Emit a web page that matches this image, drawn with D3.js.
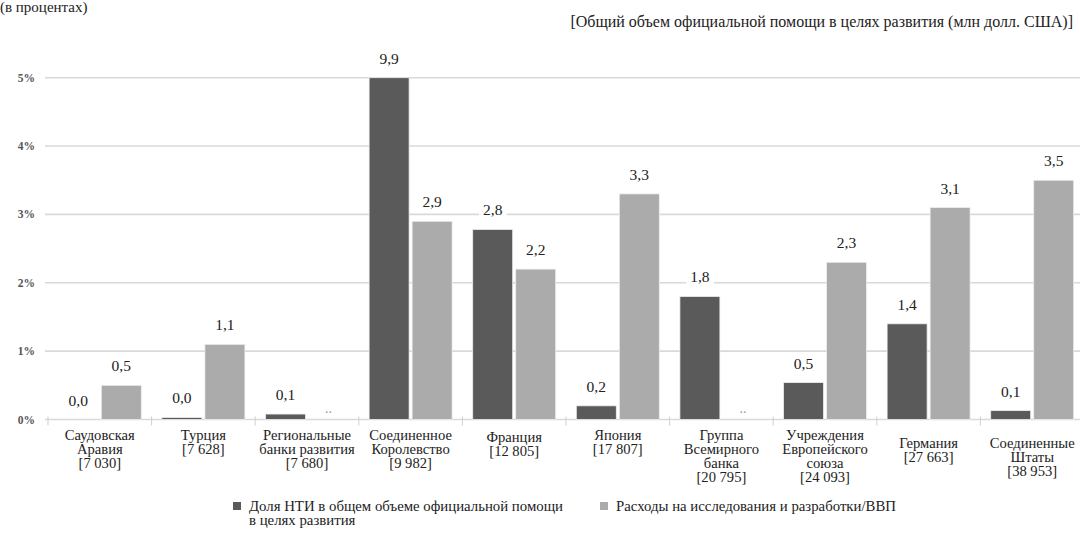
<!DOCTYPE html>
<html><head><meta charset="utf-8">
<script src="https://cdn.jsdelivr.net/npm/d3@7"></script>
<style>
html,body{margin:0;padding:0;background:#fff;}
svg{display:block;}
</style></head>
<body>
<svg id="chart" width="1080" height="534" font-family="'Liberation Serif', 'DejaVu Serif', serif"></svg>
<script>
// ---------- DATA ----------
const categories = ["Саудовская Аравия","Турция","Региональные банки развития","Соединенное Королевство","Франция","Япония","Группа Всемирного банка","Учреждения Европейского союза","Германия","Соединенные Штаты"];
const categoryLines = [["Саудовская","Аравия"],["Турция"],["Региональные","банки развития"],["Соединенное","Королевство"],["Франция"],["Япония"],["Группа","Всемирного","банка"],["Учреждения","Европейского","союза"],["Германия"],["Соединенные","Штаты"]];
const odaTotals = ["7 030","7 628","7 680","9 982","12 805","17 807","20 795","24 093","27 663","38 953"];
const stiShare = [0.0, 0.03, 0.08, 9.9, 2.78, 0.2, 1.8, 0.54, 1.4, 0.13];
const rdGdp = [0.5, 1.1, null, 2.9, 2.2, 3.3, null, 2.3, 3.1, 3.5];
const yTicks = [0, 1, 2, 3, 4, 5];
const seriesNames = ["Доля НТИ в общем объеме официальной помощи|в целях развития", "Расходы на исследования и разработки/ВВП"];
const titleText = "[Общий объем официальной помощи в целях развития (млн долл. США)]";
const topText = "(в процентах)";

// ---------- LAYOUT ----------
const svg = d3.select("#chart");
const colors = ["#5a5a5a", "#ababab"];
const x = d3.scaleBand().domain(categories).range([48, 1084]).padding(0);
const y = d3.scaleLinear().domain([0, 5]).range([419.5, 77.7]).clamp(true);
const bw = x.bandwidth();
const barW = 40, gap = 3, pad = (bw - 2*barW - gap)/2;
const fmt = v => d3.format(".1f")(v).replace(".", ",");

// top text (partly cut in the reference)
svg.append("text").attr("x", 0).attr("y", 12).attr("font-size", 15).attr("fill", "#222").text(topText);
// title
svg.append("text").attr("x", 1073).attr("y", 27).attr("text-anchor", "end")
  .attr("font-size", 16).attr("fill", "#222").text(titleText);

// gridlines
svg.append("g").selectAll("line").data(yTicks).join("line")
  .attr("x1", 45).attr("x2", 1080)
  .attr("y1", d => y(d)).attr("y2", d => y(d))
  .attr("stroke", "#d9d9d9").attr("stroke-width", 1.6);

// baseline ticks at band boundaries
const bounds = categories.map(c => x(c)).concat([x(categories[categories.length-1]) + bw]);
svg.append("g").selectAll("line").data(bounds).join("line")
  .attr("x1", d => d).attr("x2", d => d)
  .attr("y1", y(0) - 3).attr("y2", y(0) + 6)
  .attr("stroke", "#cfcfcf").attr("stroke-width", 1);

// y-axis labels
svg.append("g").selectAll("text").data(yTicks).join("text")
  .attr("x", 35).attr("y", d => y(d) + 4).attr("text-anchor", "end")
  .attr("font-size", 11.5).attr("font-weight", "bold").attr("fill", "#555")
  .text(d => d + "%");

// bars
const series = [stiShare, rdGdp];
series.forEach((vals, si) => {
  const g = svg.append("g");
  const data = vals.map((v, i) => ({v, i}));
  const bx = d => x(categories[d.i]) + pad + si*(barW + gap);
  g.selectAll("rect").data(data.filter(d => d.v !== null && d.v > 0)).join("rect")
    .attr("x", bx).attr("width", barW)
    .attr("y", d => y(d.v)).attr("height", d => y(0) - y(d.v))
    .attr("fill", colors[si]).attr("stroke", "#eeeeee").attr("stroke-width", 0.8);
  data.forEach(d => {
    const cx = bx(d) + barW/2;
    if (d.v === null) {
      g.append("text").attr("x", cx).attr("y", y(0) - 7).attr("text-anchor", "middle")
        .attr("font-size", 14).attr("fill", "#999").text("..");
    } else {
      const ty = y(d.v) - 14;
      const t = g.append("text").attr("x", cx).attr("y", ty).attr("text-anchor", "middle")
        .attr("font-size", 15.5).attr("fill", "#222").text(fmt(d.v));
      const bb = t.node().getBBox();
      g.insert("rect", () => t.node()).attr("x", bb.x - 4).attr("y", bb.y - 1)
        .attr("width", bb.width + 8).attr("height", bb.height + 2).attr("fill", "#fff");
    }
  });
});

// category labels
const shift = {"Франция": 2, "Германия": 8, "Соединенные Штаты": 8};
categories.forEach((c, i) => {
  const lines = categoryLines[i].concat(["[" + odaTotals[i] + "]"]);
  const cx = x(c) + bw/2;
  const t = svg.append("text").attr("text-anchor", "middle").attr("font-size", 14.6).attr("fill", "#222");
  lines.forEach((l, k) => {
    t.append("tspan").attr("x", cx).attr("y", 440 + (shift[c] || 0) + k*14).text(l);
  });
});

// legend
const leg = svg.append("g");
const lx = [233, 600];
seriesNames.forEach((s, si) => {
  leg.append("rect").attr("x", lx[si]).attr("y", 502).attr("width", 8).attr("height", 8).attr("fill", colors[si]);
  const t = leg.append("text").attr("font-size", 14.8).attr("fill", "#222");
  s.split("|").forEach((l, k) => {
    t.append("tspan").attr("x", lx[si] + 16).attr("y", 511 + k*14).text(l);
  });
});
</script>
</body></html>
